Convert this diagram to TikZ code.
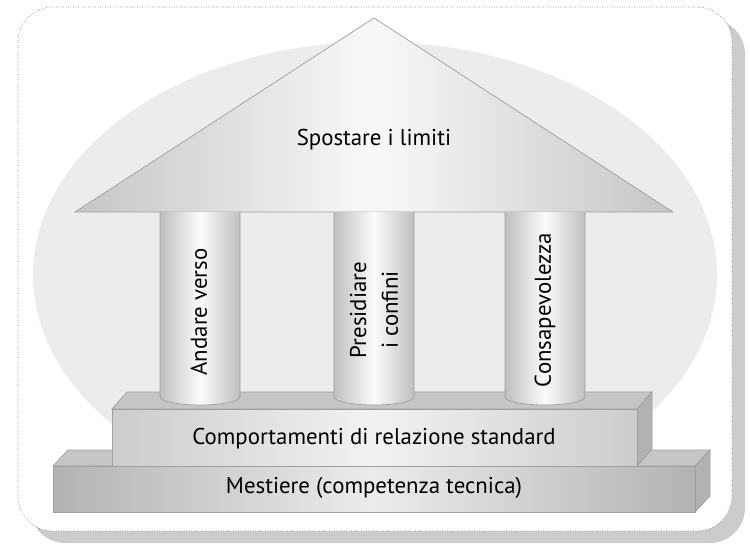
\documentclass[tikz,border=0pt]{standalone}
\usepackage{fontspec}
\setmainfont{PT Sans}
\usepackage{tikz}
\usetikzlibrary{shapes,positioning,calc}

\begin{document}
\begin{tikzpicture}[x=0.2mm, y=-0.2mm,
        font=\fontsize{13}{18}\selectfont,
        edge/.style={draw=gray!75, line width=0.4pt},
        topface/.style={edge, fill=gray!45},
        sideface/.style={edge, fill=gray!60},
        pillar/.style={edge, left color=gray!50, right color=gray!50, middle color=gray!3}]
        \useasboundingbox (0,0) rectangle (750,548);

        % Frame with shadow
        \fill[gray!40, rounded corners=20] (30,19) rectangle (745,543);
        \draw[gray, densely dotted, fill=white, rounded corners=20] (18,7) rectangle (732,531);

        % Background ellipse
        \fill[gray!15] (375,275) ellipse [x radius=342, y radius=233];

        % Roof
        \draw[edge, left color=gray!45, right color=gray!45, middle color=gray!5]
            (75,212) -- (374,18) -- (673,212) -- cycle;
        \node (roof) at (374,140) {Spostare i limiti};

        % Lower step (Mestiere)
        \draw[topface] (53,466) -- (68,450) -- (710,450) -- (695,466) -- cycle;
        \draw[sideface] (695,466) -- (710,450) -- (710,496) -- (695,512) -- cycle;
        \draw[edge, left color=gray!60, right color=gray!60, middle color=gray!15] (53,466) rectangle (695,512);
        \node (mestiere) at (374,488) {Mestiere (competenza tecnica)};

        % Upper step (Comportamenti)
        \draw[topface] (112,409) -- (127,392) -- (652,392) -- (637,409) -- cycle;
        \draw[sideface] (637,409) -- (652,392) -- (652,449) -- (637,466) -- cycle;
        \draw[edge, left color=gray!40, right color=gray!40, middle color=gray!10] (112,409) rectangle (637,466);
        \node (comportamenti) at (374,439) {Comportamenti di relazione standard};

        % Columns
        \foreach \cx in {200,374,545} {
            \draw[pillar] (\cx-40,212) -- (\cx-40,397)
                arc[start angle=180, end angle=0, x radius=40, y radius=8] -- (\cx+40,212);
        }
        \node[rotate=90] (andare) at (199,312) {Andare verso};
        \node[rotate=90, align=center] (presidiare) at (374,310) {Presidiare\\i confini};
        \node[rotate=90] (consapevolezza) at (545,310) {Consapevolezza};
    \end{tikzpicture}
\end{document}
